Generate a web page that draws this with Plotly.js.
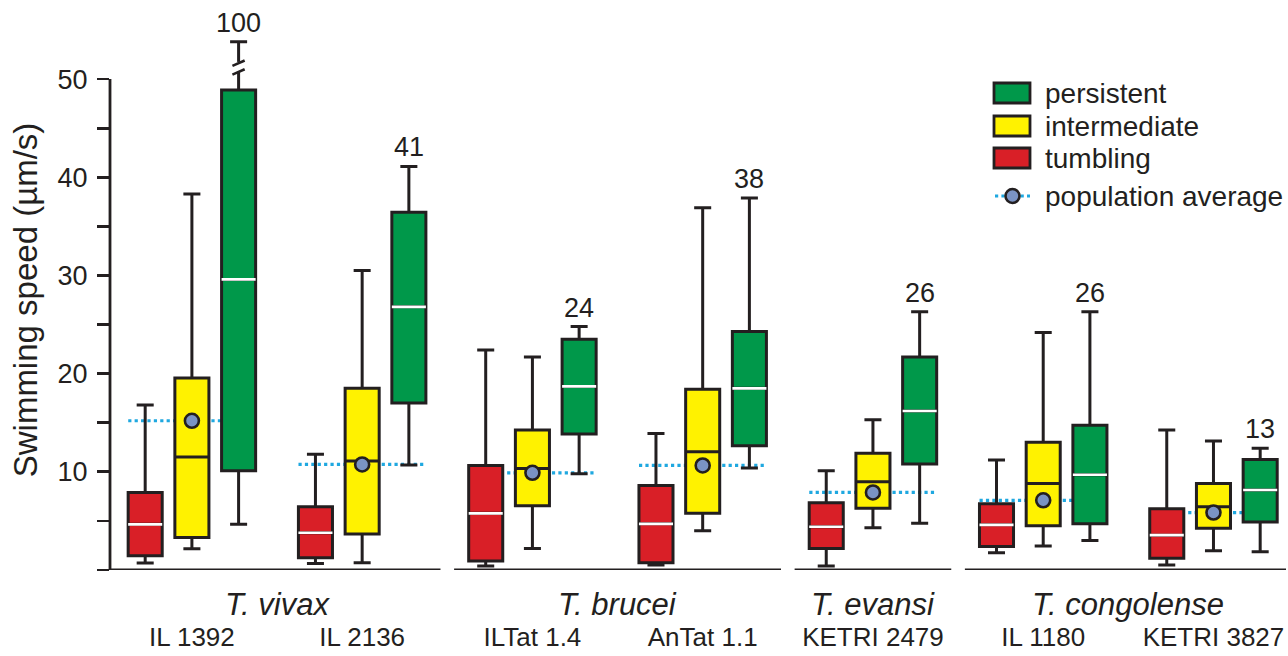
<!DOCTYPE html>
<html><head><meta charset="utf-8">
<script src="https://cdn.plot.ly/plotly-3.0.1.min.js"></script>
<style>html,body{margin:0;padding:0;background:#fff}#chart{width:1288px;height:656px}</style>
</head><body><div id="chart"></div><script>
// ---------- data ----------
const strains = ['IL 1392','IL 2136','ILTat 1.4','AnTat 1.1','KETRI 2479','IL 1180','KETRI 3827'];
const species = ['T. vivax','T. brucei','T. evansi','T. congolense'];
const speciesStrainCount = [2,2,1,2];

const tumblingMin    = [0.71,0.65,0.4,0.5,0.4,1.76,0.5];
const tumblingQ1     = [1.46,1.25,0.92,0.75,2.2,2.4,1.2];
const tumblingMedian = [4.65,3.8,5.77,4.7,4.4,4.6,3.55];
const tumblingQ3     = [7.9,6.45,10.65,8.6,6.85,6.75,6.25];
const tumblingMax    = [16.8,11.8,22.4,13.9,10.1,11.2,14.25];

const intermediateMin    = [2.17,0.75,2.2,4.0,4.3,2.45,1.97];
const intermediateQ1     = [3.3,3.67,6.55,5.77,6.3,4.5,4.25];
const intermediateMedian = [11.5,11.1,10.35,12.05,9.0,8.8,6.45];
const intermediateQ3     = [19.55,18.5,14.25,18.4,11.9,13.0,8.8];
const intermediateMax    = [38.3,30.5,21.7,36.9,15.3,24.2,13.15];

const persistentMin    = [4.65,10.7,9.8,10.4,4.75,3.0,1.85];
const persistentQ1     = [10.1,17.0,13.85,12.65,10.8,4.7,4.9];
const persistentMedian = [29.6,26.8,18.7,18.5,16.2,9.7,8.15];
const persistentQ3     = [48.9,36.45,23.5,24.3,21.7,14.75,11.25];
const persistentMax    = [100,41.1,24.8,37.9,26.3,26.3,12.4];
const persistentMaxLabels = ['100','41','24','38','26','26','13'];

const populationAverage = [15.2,10.75,9.9,10.65,7.9,7.1,5.85];

const yTickVals = [0,5,10,15,20,25,30,35,40,45,50];
const yTickText = ['','','10','','20','','30','','40','','50'];

// ---------- style ----------
const ink = '#231f20';
const FONT = '"Liberation Sans", Arial, Helvetica, sans-serif';
const dotBlue = '#1fa8e0';
const axisBreak = 53.8;          // where the broken whisker is drawn
const groupOffset = 0.274;       // offset of side boxes from category centre
const avgHalfWidth = 0.374;

const series = [
  {key:'tumbling', name:'tumbling', fill:'#d91f27', med:'#ffffff',
   lo:tumblingMin, q1:tumblingQ1, m:tumblingMedian, q3:tumblingQ3, hi:tumblingMax},
  {key:'intermediate', name:'intermediate', fill:'#fff200', med:null,
   lo:intermediateMin, q1:intermediateQ1, m:intermediateMedian, q3:intermediateQ3, hi:intermediateMax},
  {key:'persistent', name:'persistent', fill:'#00984a', med:'#ffffff',
   lo:persistentMin, q1:persistentQ1, m:persistentMedian, q3:persistentQ3, hi:persistentMax}
];

const traces = [];
series.forEach(s => {
  traces.push({
    type:'box', name:s.name, x:strains, offsetgroup:s.key, alignmentgroup:'a',
    lowerfence:s.lo, q1:s.q1, median:s.m, q3:s.q3,
    upperfence:s.hi.map(v => Math.min(v, axisBreak)),
    fillcolor:s.fill, line:{color:ink, width:3}, whiskerwidth:0.5,
    boxpoints:false, showlegend:false, hoverinfo:'y'
  });
});
series.forEach(s => {
  if (!s.med) return;
  traces.push({
    type:'box', name:s.name+' median', x:strains, offsetgroup:s.key, alignmentgroup:'a',
    lowerfence:s.m, q1:s.m, median:s.m, q3:s.m, upperfence:s.m,
    fillcolor:'rgba(0,0,0,0)', line:{color:s.med, width:2.6}, whiskerwidth:0,
    boxpoints:false, showlegend:false, hoverinfo:'skip'
  });
});
traces.push({
  type:'scatter', mode:'markers', name:'population average', x:strains, y:populationAverage,
  marker:{size:14, color:'#7a93c4', line:{color:ink, width:2.6}},
  showlegend:false, cliponaxis:false
});

const shapes = [];
const annotations = [];
// population average dotted lines
populationAverage.forEach((v,i) => {
  shapes.push({type:'line', xref:'x', yref:'y', x0:i-avgHalfWidth, x1:i+avgHalfWidth, y0:v, y1:v,
    line:{color:dotBlue, width:3.2, dash:'dot'}, layer:'below'});
});
// y axis line (0..50)
shapes.push({type:'line', xref:'paper', yref:'y', x0:0, x1:0, y0:0, y1:50, line:{color:ink, width:2.8}});
// baseline segments per species
let start = 0;
speciesStrainCount.forEach((n,g) => {
  const end = start + n - 1;
  shapes.push({type:'line', xref:'x', yref:'y', x0:g===0 ? -0.481 : start-0.46, x1:end+0.46, y0:0, y1:0,
    line:{color:ink, width:3}});
  annotations.push({xref:'x', yref:'paper', x:(start+end)/2, y:0, yshift:-34, yanchor:'middle',
    text:'<i>'+species[g]+'</i>', showarrow:false, font:{family:FONT, size:31, color:ink}});
  start += n;
});
// labels above persistent whiskers + axis breaks
persistentMax.forEach((v,i) => {
  const xp = i + groupOffset;
  const yc = Math.min(v, axisBreak);
  annotations.push({xref:'x', yref:'y', x:xp, y:yc, yanchor:'bottom', yshift:2,
    text:persistentMaxLabels[i], showarrow:false, font:{family:FONT, size:27, color:ink}});
  if (v > axisBreak) {
    shapes.push({type:'line', xref:'x', yref:'y', x0:xp, x1:xp, y0:50.75, y1:51.75,
      line:{color:'#ffffff', width:5}});
    shapes.push({type:'line', xref:'x', yref:'y', x0:xp-0.036, x1:xp+0.036, y0:50.45, y1:51.0,
      line:{color:ink, width:2.6}});
    shapes.push({type:'line', xref:'x', yref:'y', x0:xp-0.036, x1:xp+0.036, y0:51.35, y1:51.9,
      line:{color:ink, width:2.6}});
  }
});

// manual legend
const px = v => (v-110)/1176, py = v => (570-v)/540;
const legendItems = [series[2], series[1], series[0]];
legendItems.forEach((s,k) => {
  const yc = [93,126,158][k];
  shapes.push({type:'rect', xref:'paper', yref:'paper', x0:px(994), x1:px(1030), y0:py(yc+10), y1:py(yc-10),
    fillcolor:s.fill, line:{color:ink, width:2.8}});
  annotations.push({xref:'paper', yref:'paper', x:px(1043), y:py(yc), xanchor:'left', yanchor:'middle',
    text:s.name, showarrow:false, font:{family:FONT, size:28, color:ink}});
});
shapes.push({type:'line', xref:'paper', yref:'paper', x0:px(995), x1:px(1030), y0:py(196), y1:py(196),
  line:{color:dotBlue, width:3.2, dash:'dot'}});
shapes.push({type:'circle', xref:'paper', yref:'paper', x0:px(1005.5), x1:px(1019.5), y0:py(203), y1:py(189),
  fillcolor:'#7a93c4', line:{color:ink, width:2.6}});
annotations.push({xref:'paper', yref:'paper', x:px(1043), y:py(196), xanchor:'left', yanchor:'middle',
  text:'population average', showarrow:false, font:{family:FONT, size:28, color:ink}});

const layout = {
  width:1288, height:656,
  margin:{l:110, r:2, t:30, b:86},
  paper_bgcolor:'#ffffff', plot_bgcolor:'#ffffff',
  font:{family:FONT, color:ink},
  boxmode:'group', boxgap:0.177, boxgroupgap:0.271,
  showlegend:false,
  xaxis:{type:'category', range:[-0.481, 6.426], showline:false, showgrid:false, zeroline:false,
    ticks:'', tickfont:{family:FONT, size:26, color:ink}, ticklabelstandoff:49, fixedrange:true},
  yaxis:{range:[0,55], showline:false, showgrid:false, zeroline:false,
    tickvals:yTickVals, ticktext:yTickText, ticks:'outside', ticklen:12, tickwidth:2.8, tickcolor:ink,
    tickfont:{family:FONT, size:27, color:ink}, ticklabelstandoff:4,
    title:{text:'Swimming speed (µm/s)', font:{family:FONT, size:33, color:ink}, standoff:10}},
  shapes:shapes, annotations:annotations
};

Plotly.newPlot('chart', traces, layout, {displayModeBar:false, staticPlot:true});
</script></body></html>
